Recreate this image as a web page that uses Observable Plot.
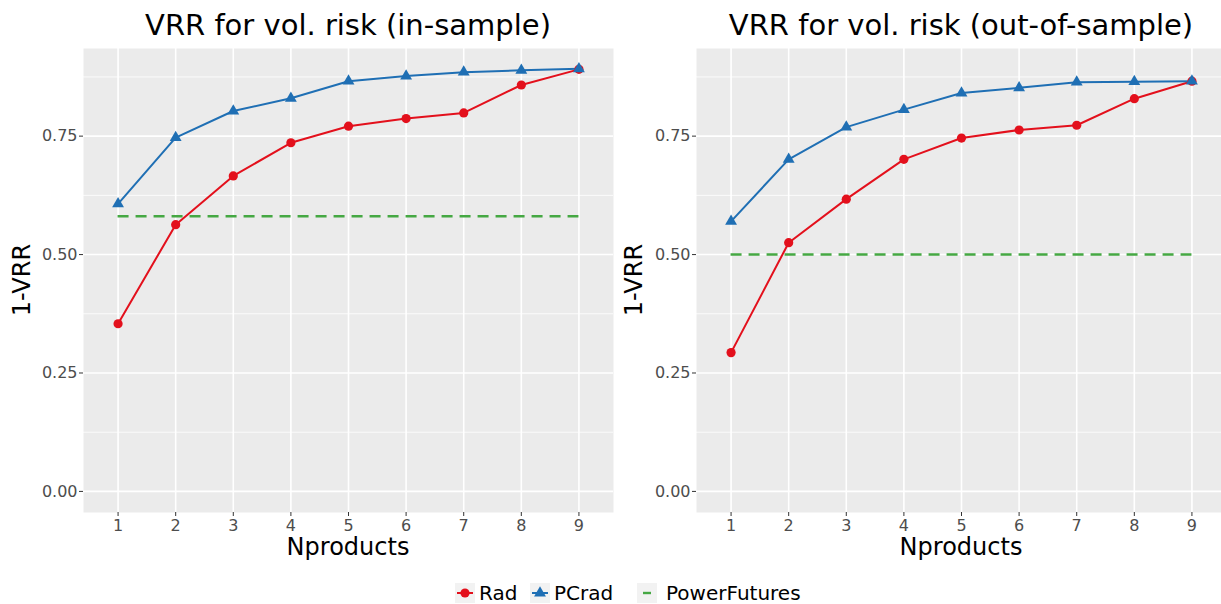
<!DOCTYPE html>
<html>
<head>
<meta charset="utf-8">
<script src="https://cdn.jsdelivr.net/npm/d3@7"></script>
<script src="https://cdn.jsdelivr.net/npm/@observablehq/plot@0.6"></script>
<style>
  html, body { margin: 0; padding: 0; background: #fff; }
  body { width: 1221px; height: 604px; position: relative; overflow: hidden; font-family: "DejaVu Sans", sans-serif; }
  .abs { position: absolute; }
  .abs svg { max-width: none !important; }
  .title { font-size: 29px; color: #000; white-space: nowrap; transform: translate(-50%, -50%); }
  .xlab { font-size: 24px; color: #000; white-space: nowrap; transform: translate(-50%, -50%); }
  .ylab { font-size: 24px; color: #000; white-space: nowrap; transform: translate(-50%, -50%) rotate(-90deg); }
  .legtext { font-size: 20px; color: #000; white-space: nowrap; transform: translateY(-50%); }
</style>
</head>
<body>
<script>
// ---- data ----
const nproducts = [1, 2, 3, 4, 5, 6, 7, 8, 9];
const radIn    = [0.354, 0.563, 0.666, 0.736, 0.771, 0.787, 0.799, 0.858, 0.891];
const pcradIn  = [0.607, 0.747, 0.803, 0.830, 0.866, 0.877, 0.885, 0.889, 0.892];
const futuresIn = [0.581];
const radOut   = [0.293, 0.525, 0.617, 0.701, 0.746, 0.763, 0.773, 0.829, 0.866];
const pcradOut = [0.570, 0.701, 0.769, 0.806, 0.841, 0.852, 0.864, 0.865, 0.866];
const futuresOut = [0.500];
const yTicks = [0, 0.25, 0.5, 0.75];
const yMinor = [0.125, 0.375, 0.625, 0.875];
const titles = ["VRR for vol. risk (in-sample)", "VRR for vol. risk (out-of-sample)"];
const seriesNames = ["Rad", "PCrad", "PowerFutures"];
const colors = { Rad: "#E3101C", PCrad: "#1F6FB4", PowerFutures: "#45A843" };

function table(vals) { return nproducts.map((n, i) => ({ n, v: vals[i] })); }

function panel(rad, pcrad, fut, title, left, width, marginLeft, marginRight) {
  const height = 520, top = 40;
  const chart = Plot.plot({
    width, height,
    marginLeft, marginRight, marginTop: 8, marginBottom: 48,
    x: { domain: [0.4, 9.6], label: null },
    y: { domain: [-0.0445, 0.935], label: null },
    style: { fontFamily: "DejaVu Sans", fontSize: "16px", color: "#4D4D4D", background: "transparent", overflow: "visible", maxWidth: "none" },
    marks: [
      Plot.frame({ fill: "#EBEBEB", stroke: "none" }),
      Plot.gridY(yMinor, { stroke: "white", strokeOpacity: 1, strokeWidth: 0.8 }),
      Plot.gridY(yTicks, { stroke: "white", strokeOpacity: 1, strokeWidth: 1.6 }),
      Plot.gridX(nproducts, { stroke: "white", strokeOpacity: 1, strokeWidth: 1.6 }),
      Plot.axisX({ ticks: nproducts, tickFormat: d => String(d), tickSize: 4, tickPadding: 3, stroke: "#333", label: null, fill: "#4D4D4D" }),
      Plot.axisY({ ticks: yTicks, tickFormat: d3.format(".2f"), tickSize: 4, tickPadding: 2, stroke: "#333", label: null, fill: "#4D4D4D" }),
      Plot.ruleY(fut, { y: d => d, x1: 1, x2: 9, stroke: colors.PowerFutures, strokeWidth: 2.4, strokeDasharray: "11,7" }),
      Plot.line(table(rad), { x: "n", y: "v", stroke: colors.Rad, strokeWidth: 2 }),
      Plot.line(table(pcrad), { x: "n", y: "v", stroke: colors.PCrad, strokeWidth: 2 }),
      Plot.dot(table(rad), { x: "n", y: "v", fill: colors.Rad, r: 4.6, symbol: "circle" }),
      Plot.dot(table(pcrad), { x: "n", y: "v", fill: colors.PCrad, r: 4.4, symbol: "triangle" })
    ]
  });
  const wrap = document.createElement("div");
  wrap.className = "abs";
  wrap.style.left = left + "px";
  wrap.style.top = top + "px";
  wrap.style.width = width + "px";
  wrap.style.height = height + "px";
  wrap.appendChild(chart);
  document.body.appendChild(wrap);

  const px0 = left + marginLeft, px1 = left + width - marginRight;
  const cx = (px0 + px1) / 2;
  const t = document.createElement("div");
  t.className = "abs title"; t.textContent = title;
  t.style.left = cx + "px"; t.style.top = "25px";
  document.body.appendChild(t);

  const xl = document.createElement("div");
  xl.className = "abs xlab"; xl.textContent = "Nproducts";
  xl.style.left = cx + "px"; xl.style.top = "547px";
  document.body.appendChild(xl);

  const yl = document.createElement("div");
  yl.className = "abs ylab"; yl.textContent = "1-VRR";
  yl.style.left = (left + 22) + "px"; yl.style.top = "280px";
  document.body.appendChild(yl);
}

panel(radIn, pcradIn, futuresIn, titles[0], 0, 614, 83, 1);
panel(radOut, pcradOut, futuresOut, titles[1], 612, 614, 84, 0);

// ---- legend ----
const legendKeys = [
  { name: seriesNames[0], kx: 465, tx: 479, draw: c => `<line x1="2" y1="10" x2="18" y2="10" stroke="${c}" stroke-width="2"/><circle cx="10" cy="10" r="4.6" fill="${c}"/>` },
  { name: seriesNames[1], kx: 540, tx: 554, draw: c => `<line x1="2" y1="10" x2="18" y2="10" stroke="${c}" stroke-width="2"/><path d="${d3.symbol(d3.symbolTriangle, Math.PI*4.4*4.4)()}" transform="translate(10,10)" fill="${c}"/>` },
  { name: seriesNames[2], kx: 647, tx: 666, draw: c => `<line x1="6" y1="10" x2="14" y2="10" stroke="${c}" stroke-width="2.4"/>` }
];
for (const k of legendKeys) {
  const c = colors[k.name];
  const box = document.createElement("div");
  box.className = "abs";
  box.style.left = (k.kx - 10) + "px"; box.style.top = "583px";
  box.innerHTML = `<svg width="20" height="20"><rect width="20" height="20" fill="#F2F2F2"/>${k.draw(c)}</svg>`;
  document.body.appendChild(box);
  const tx = document.createElement("div");
  tx.className = "abs legtext"; tx.textContent = k.name;
  tx.style.left = k.tx + "px"; tx.style.top = "593px";
  document.body.appendChild(tx);
}
</script>
</body>
</html>
